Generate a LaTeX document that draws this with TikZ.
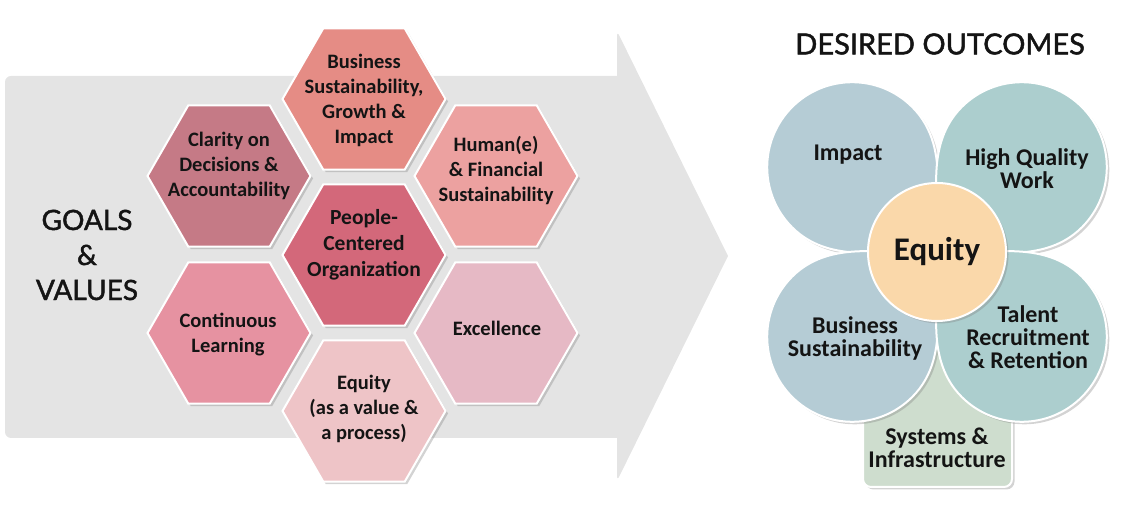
\documentclass[tikz,border=0pt]{standalone}
\usepackage{fontspec}
\setmainfont{Carlito}
\newfontfamily\headfont[FakeBold=1.6]{Lato}
\usetikzlibrary{shapes.geometric,shadows}

\definecolor{arrowgray}{RGB}{228,228,228}
\definecolor{hexBiz}{RGB}{229,140,133}
\definecolor{hexClarity}{RGB}{197,122,134}
\definecolor{hexHuman}{RGB}{236,161,160}
\definecolor{hexPeople}{RGB}{211,104,122}
\definecolor{hexLearn}{RGB}{230,146,161}
\definecolor{hexExcel}{RGB}{230,185,197}
\definecolor{hexEquity}{RGB}{238,196,199}
\definecolor{petalBlue}{RGB}{181,204,213}
\definecolor{petalTeal}{RGB}{172,206,206}
\definecolor{coreOrange}{RGB}{250,216,170}
\definecolor{sysGreen}{RGB}{206,221,206}
\definecolor{inkText}{RGB}{20,20,20}

\begin{document}
\begin{tikzpicture}[x=1pt, y=1pt, text=inkText,
    softshadow/.style={drop shadow={shadow xshift=2.5pt, shadow yshift=-2.5pt, opacity=0.35}},
    hexcell/.style={regular polygon, regular polygon sides=6, minimum size=163pt, inner sep=0pt,
        draw=white, line width=2pt, softshadow},
    hextext/.style={align=center, font=\bfseries\fontsize{20.5}{25}\selectfont},
    petal/.style={draw=white, line width=2pt, softshadow},
    petaltext/.style={align=center, font=\bfseries\fontsize{24}{23}\selectfont},
    headtext/.style={align=center, font=\headfont\fontsize{28}{35}\selectfont}]
    \useasboundingbox (0,0) rectangle (1136,517);

    % big grey arrow
    \fill[arrowgray] (617,79) [rounded corners=6pt] -- (5,79) -- (5,441) [sharp corners] -- (617,441)
        [rounded corners=5pt] -- (617,486) [sharp corners] -- (728,261) [rounded corners=5pt] -- (617,36)
        [sharp corners] -- cycle;

    \node[headtext] (goals) at (87,262) {GOALS\\\&\\VALUES};

    % honeycomb of values
    \node[hexcell, fill=hexBiz] (hBiz) at (364,418) {};
    \node[hexcell, fill=hexClarity] (hClarity) at (229,341) {};
    \node[hexcell, fill=hexHuman] (hHuman) at (496,341) {};
    \node[hexcell, fill=hexPeople] (hPeople) at (364,262) {};
    \node[hexcell, fill=hexLearn] (hLearn) at (229,184) {};
    \node[hexcell, fill=hexExcel] (hExcel) at (496,184) {};
    \node[hexcell, fill=hexEquity] (hEquity) at (364,106) {};

    \node[hextext] (tBiz) at (364,417) {Business\\Sustainability,\\Growth \&\\Impact};
    \node[hextext] (tClarity) at (229,351) {Clarity on\\Decisions \&\\Accountability};
    \node[hextext] (tHuman) at (496,346) {Human(e)\\\& Financial\\Sustainability};
    \node[hextext, font=\bfseries\fontsize{21.5}{26}\selectfont] (tPeople) at (364,272) {People-\\Centered\\Organization};
    \node[hextext] (tLearn) at (228,182) {Continuous\\Learning};
    \node[hextext] (tExcel) at (497,189) {Excellence};
    \node[hextext] (tEquity) at (364,108) {Equity\\(as a value \&\\a process)};

    % desired outcomes flower
    \node[headtext, font=\headfont\fontsize{29}{35}\selectfont] (outcomes) at (940,473) {DESIRED OUTCOMES};
    \coordinate (flower) at (937,265);

    \path[fill=sysGreen, draw=white, line width=2pt, softshadow, rounded corners=8pt] (863,30) rectangle (1012,230);

    \path[petal, fill=petalBlue, shift={(flower)}] (0,0) .. controls (-35.4,7.1) and (-102.5,-17.7) .. (-144.9,24.7)
        arc[start angle=225, end angle=45, radius=85] .. controls (17.7,102.5) and (-7.1,35.4) .. (0,0) -- cycle;
    \path[petal, fill=petalTeal, shift={(flower)}] (0,0) .. controls (35.4,7.1) and (102.5,-17.7) .. (144.9,24.7)
        arc[start angle=-45, end angle=135, radius=85] .. controls (-17.7,102.5) and (7.1,35.4) .. (0,0) -- cycle;
    \path[petal, fill=petalBlue, shift={(flower)}] (0,0) .. controls (-35.4,-7.1) and (-102.5,17.7) .. (-144.9,-24.7)
        arc[start angle=135, end angle=315, radius=85] .. controls (17.7,-102.5) and (-7.1,-35.4) .. (0,0) -- cycle;
    \path[petal, fill=petalTeal, shift={(flower)}] (0,0) .. controls (35.4,-7.1) and (102.5,17.7) .. (144.9,-24.7)
        arc[start angle=45, end angle=-135, radius=85] .. controls (-17.7,-102.5) and (7.1,-35.4) .. (0,0) -- cycle;

    \node[circle, minimum size=138pt, inner sep=0pt, fill=coreOrange, draw=white, line width=2pt, softshadow,
        font=\bfseries\fontsize{33}{33}\selectfont] (core) at (flower) {Equity};

    \node[petaltext] (pImpact) at (848,362) {Impact};
    \node[petaltext] (pQuality) at (1027,348) {High Quality\\Work};
    \node[petaltext] (pBusiness) at (855,179) {Business\\Sustainability};
    \node[petaltext] (pTalent) at (1028,180) {Talent\\Recruitment\\\& Retention};
    \node[petaltext] (pSystems) at (937,69) {Systems \&\\Infrastructure};
\end{tikzpicture}
\end{document}
